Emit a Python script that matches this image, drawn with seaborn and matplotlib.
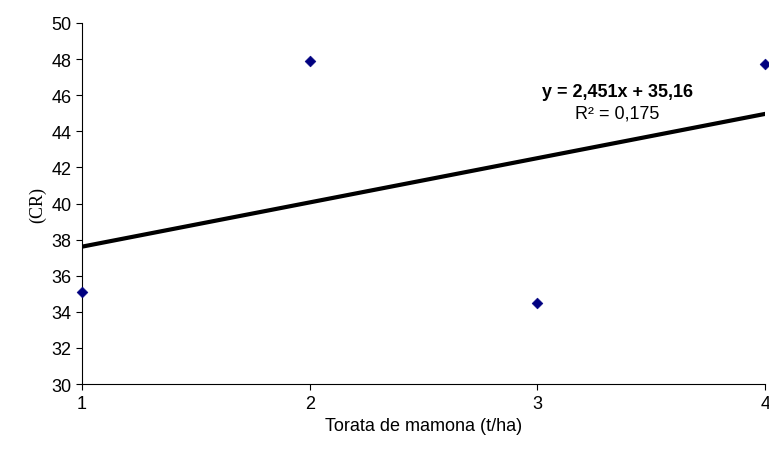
import numpy as np
import pandas as pd
import seaborn as sns
import matplotlib.pyplot as plt

# dados
doses = [1, 2, 3, 4]
cr = [35.1, 47.9, 34.5, 47.7]
slope = 2.451
intercept = 35.16

sns.set_style("ticks")
plt.rcParams['font.family'] = ['Liberation Sans', 'DejaVu Sans']
plt.rcParams['text.color'] = 'black'
plt.rcParams['axes.labelcolor'] = 'black'
plt.rcParams['xtick.color'] = 'black'
plt.rcParams['ytick.color'] = 'black'
plt.rcParams['axes.edgecolor'] = 'black'

fig = plt.figure(figsize=(7.69, 4.52), dpi=100)
ax = fig.add_axes([0.1066, 0.148, 0.8884, 0.799])

df = pd.DataFrame({"x": doses, "y": cr})
sns.scatterplot(data=df, x="x", y="y", ax=ax, marker="D", s=30,
                color="#000080", edgecolor="#000080", zorder=3, clip_on=False)

xs = np.array([1, 4])
sns.lineplot(x=xs, y=slope * xs + intercept, ax=ax, color="black", linewidth=3)

ax.set_xlim(1, 4)
ax.set_ylim(30, 50)
ax.set_xticks([1, 2, 3, 4])
ax.set_yticks(range(30, 51, 2))
ax.tick_params(labelsize=13, direction="out", length=4)
ax.set_xlabel("Torata de mamona (t/ha)", fontsize=13)
ax.set_ylabel("(CR)", fontsize=13, family="Liberation Serif")
sns.despine(ax=ax)

# equação da regressão
ax.text(3.35, 46.2, "y = 2,451x + 35,16", fontsize=13, fontweight="semibold",
        ha="center", va="center")
ax.text(3.35, 45.0, "R² = 0,175", fontsize=13, ha="center", va="center")

fig.savefig("out.png", dpi=100)
